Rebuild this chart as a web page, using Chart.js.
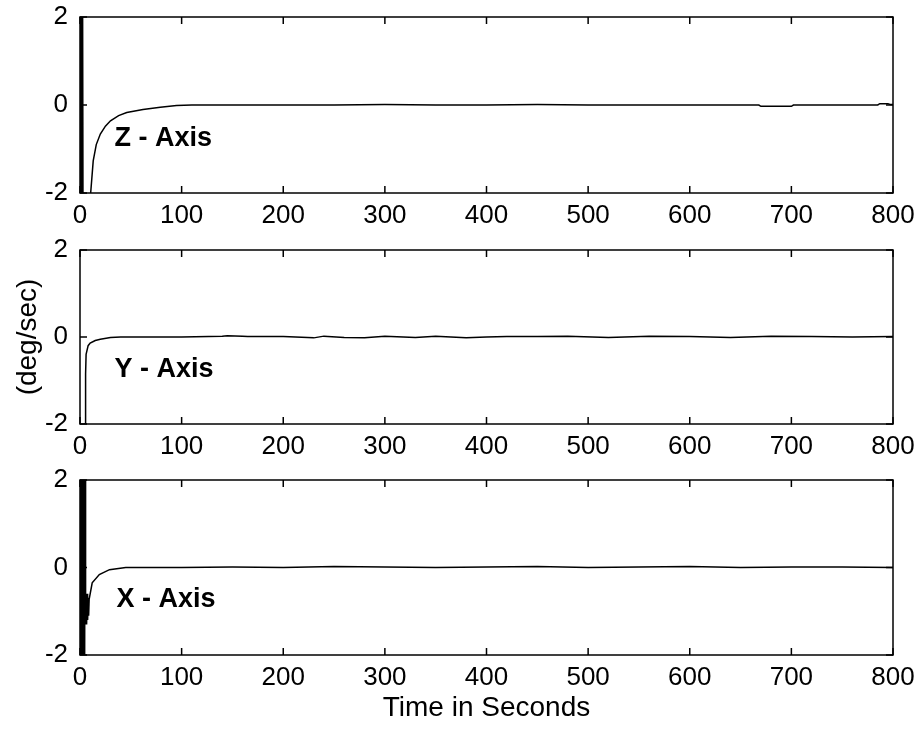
<!DOCTYPE html>
<html>
<head>
<meta charset="utf-8">
<script src="https://cdn.jsdelivr.net/npm/chart.js@4/dist/chart.umd.min.js"></script>
<style>
  body { margin: 0; background: #fff; }
  .wrap { position: absolute; left: 0; width: 917px; }
  canvas { display: block; }
</style>
</head>
<body>
<div class="wrap" style="top:0px"><canvas id="zChart" width="917" height="230"></canvas></div>
<div class="wrap" style="top:230px"><canvas id="yChart" width="917" height="230"></canvas></div>
<div class="wrap" style="top:460px"><canvas id="xChart" width="917" height="265"></canvas></div>
<script>
// axis ticks
const xTicks = [0, 100, 200, 300, 400, 500, 600, 700, 800];
const yTicks = [-2, 0, 2];

// Z - Axis rate (deg/sec)
const zTime = [0, 0.5, 1, 1.5, 2, 2.5, 3, 9, 10.5, 13, 16, 20, 25, 30, 38, 46, 62, 79, 95, 110,
  150, 200, 250, 300, 350, 400, 450, 500, 550, 600, 650, 668, 670, 700, 702, 750, 785, 787, 795, 797, 800];
const zRate = [-3, 3, -3, 3, -3, 3, -3, -3, -2, -1.27, -0.9, -0.66, -0.48, -0.36, -0.24, -0.17, -0.1, -0.05, -0.01, 0,
  0, 0, 0, 0.01, 0, 0, 0.01, 0, 0, 0, 0, 0, -0.03, -0.03, 0, 0, 0, 0.03, 0.03, 0.01, 0.01];

// Y - Axis rate
const yTime = [0, 4.5, 5, 5.5, 6, 8, 10, 15, 20, 30, 40, 100, 140, 145, 160, 165, 200, 230, 240, 260,
  280, 300, 330, 350, 380, 400, 420, 450, 480, 520, 560, 600, 640, 680, 720, 760, 800];
const yRate = [-3, -3, -2, -0.85, -0.4, -0.2, -0.14, -0.08, -0.05, -0.01, 0, 0, 0.02, 0.03, 0.02, 0.01, 0.01, -0.02, 0.02, -0.01,
  -0.02, 0.02, -0.01, 0.02, -0.02, 0, 0.01, 0.01, 0.02, -0.01, 0.02, 0.01, -0.01, 0.02, 0.01, 0, 0.01];

// X - Axis rate
const xTime = [0, 0.5, 1, 1.5, 2, 2.5, 3, 3.5, 4, 4.5, 5, 5.5, 6, 6.5, 7, 7.5, 8, 8.5, 9, 12, 19, 29, 45,
  100, 150, 200, 250, 300, 350, 400, 450, 500, 550, 600, 650, 700, 750, 800];
const xRate = [3, -3, 3, -3, 3, -3, 3, -3, 3, -3, 3, -1.3, -0.6, -1.3, -0.6, -1.2, -0.7, -1.1, -0.73, -0.35, -0.16, -0.05, 0,
  0, 0.01, 0, 0.02, 0.01, 0, 0.01, 0.02, 0, 0.01, 0.02, 0, 0.01, 0.01, 0];

const tickFont = { family: "'Liberation Sans Narrow', 'Arial Narrow', 'Liberation Sans', Arial, sans-serif", size: 26 };
const labelFont = "bold 27px 'Liberation Sans', Arial, sans-serif";

// MATLAB style box with ticks pointing inwards, plus the bold panel label
const boxPlugin = {
  id: 'matlabBox',
  afterDatasetsDraw(chart, args, opts) {
    const { ctx, chartArea: a, scales } = chart;
    ctx.save();
    ctx.strokeStyle = '#000';
    ctx.lineWidth = 1.5;
    ctx.strokeRect(a.left, a.top, a.right - a.left, a.bottom - a.top);
    ctx.beginPath();
    xTicks.forEach(t => {
      const px = scales.x.getPixelForValue(t);
      ctx.moveTo(px, a.bottom); ctx.lineTo(px, a.bottom - 7);
      ctx.moveTo(px, a.top); ctx.lineTo(px, a.top + 7);
    });
    yTicks.forEach(v => {
      const py = scales.y.getPixelForValue(v);
      ctx.moveTo(a.left, py); ctx.lineTo(a.left + 7, py);
      ctx.moveTo(a.right, py); ctx.lineTo(a.right - 7, py);
    });
    ctx.stroke();
    ctx.fillStyle = '#000';
    ctx.font = labelFont;
    ctx.textBaseline = 'alphabetic';
    ctx.fillText(opts.text, scales.x.getPixelForValue(opts.at[0]), scales.y.getPixelForValue(opts.at[1]));
    ctx.restore();
  }
};

function makePanel(id, times, rates, opt) {
  const pts = times.map((t, i) => ({ x: t, y: rates[i] }));
  return new Chart(document.getElementById(id), {
    type: 'line',
    data: {
      datasets: [{
        data: pts,
        borderColor: '#000',
        borderWidth: 1.5,
        pointRadius: 0,
        tension: 0,
        fill: false
      }]
    },
    options: {
      responsive: false,
      animation: false,
      layout: { padding: { top: opt.padTop, right: 24, left: opt.padLeft || 0, bottom: 0 } },
      plugins: {
        legend: { display: false },
        tooltip: { enabled: false },
        matlabBox: { text: opt.label, at: opt.labelAt }
      },
      scales: {
        x: {
          type: 'linear',
          min: 0, max: 800,
          afterBuildTicks: s => { s.ticks = xTicks.map(v => ({ value: v })); },
          afterFit: s => { s.height = opt.xHeight; s.paddingLeft = 0; s.paddingRight = 0; },
          grid: { display: false, drawTicks: false },
          border: { display: false },
          ticks: { color: '#000', font: tickFont, padding: 7, maxRotation: 0 },
          title: opt.xTitle ? {
            display: true, text: opt.xTitle, color: '#000',
            font: { family: "'Liberation Sans', Arial, sans-serif", size: 28 }, padding: 0
          } : { display: false }
        },
        y: {
          type: 'linear',
          min: -2, max: 2,
          afterBuildTicks: s => { s.ticks = yTicks.map(v => ({ value: v })); },
          afterFit: s => { s.width = 80 - (opt.padLeft || 0); s.paddingTop = 0; s.paddingBottom = 0; },
          grid: { display: false, drawTicks: false },
          border: { display: false },
          ticks: { color: '#000', font: tickFont, padding: 12 },
          title: opt.yTitle ? {
            display: true, text: opt.yTitle, color: '#000',
            font: { family: "'Liberation Sans', Arial, sans-serif", size: 28 }, padding: 0
          } : { display: false }
        }
      }
    },
    plugins: [boxPlugin]
  });
}

makePanel('zChart', zTime, zRate, { padTop: 17, xHeight: 37, label: 'Z - Axis', labelAt: [34, -0.94] });
makePanel('yChart', yTime, yRate, { padTop: 20, xHeight: 36, padLeft: 11, yTitle: '(deg/sec)', label: 'Y - Axis', labelAt: [34, -0.92] });
makePanel('xChart', xTime, xRate, { padTop: 20, xHeight: 70, xTitle: 'Time in Seconds', label: 'X - Axis', labelAt: [36, -0.9] });
</script>
</body>
</html>
